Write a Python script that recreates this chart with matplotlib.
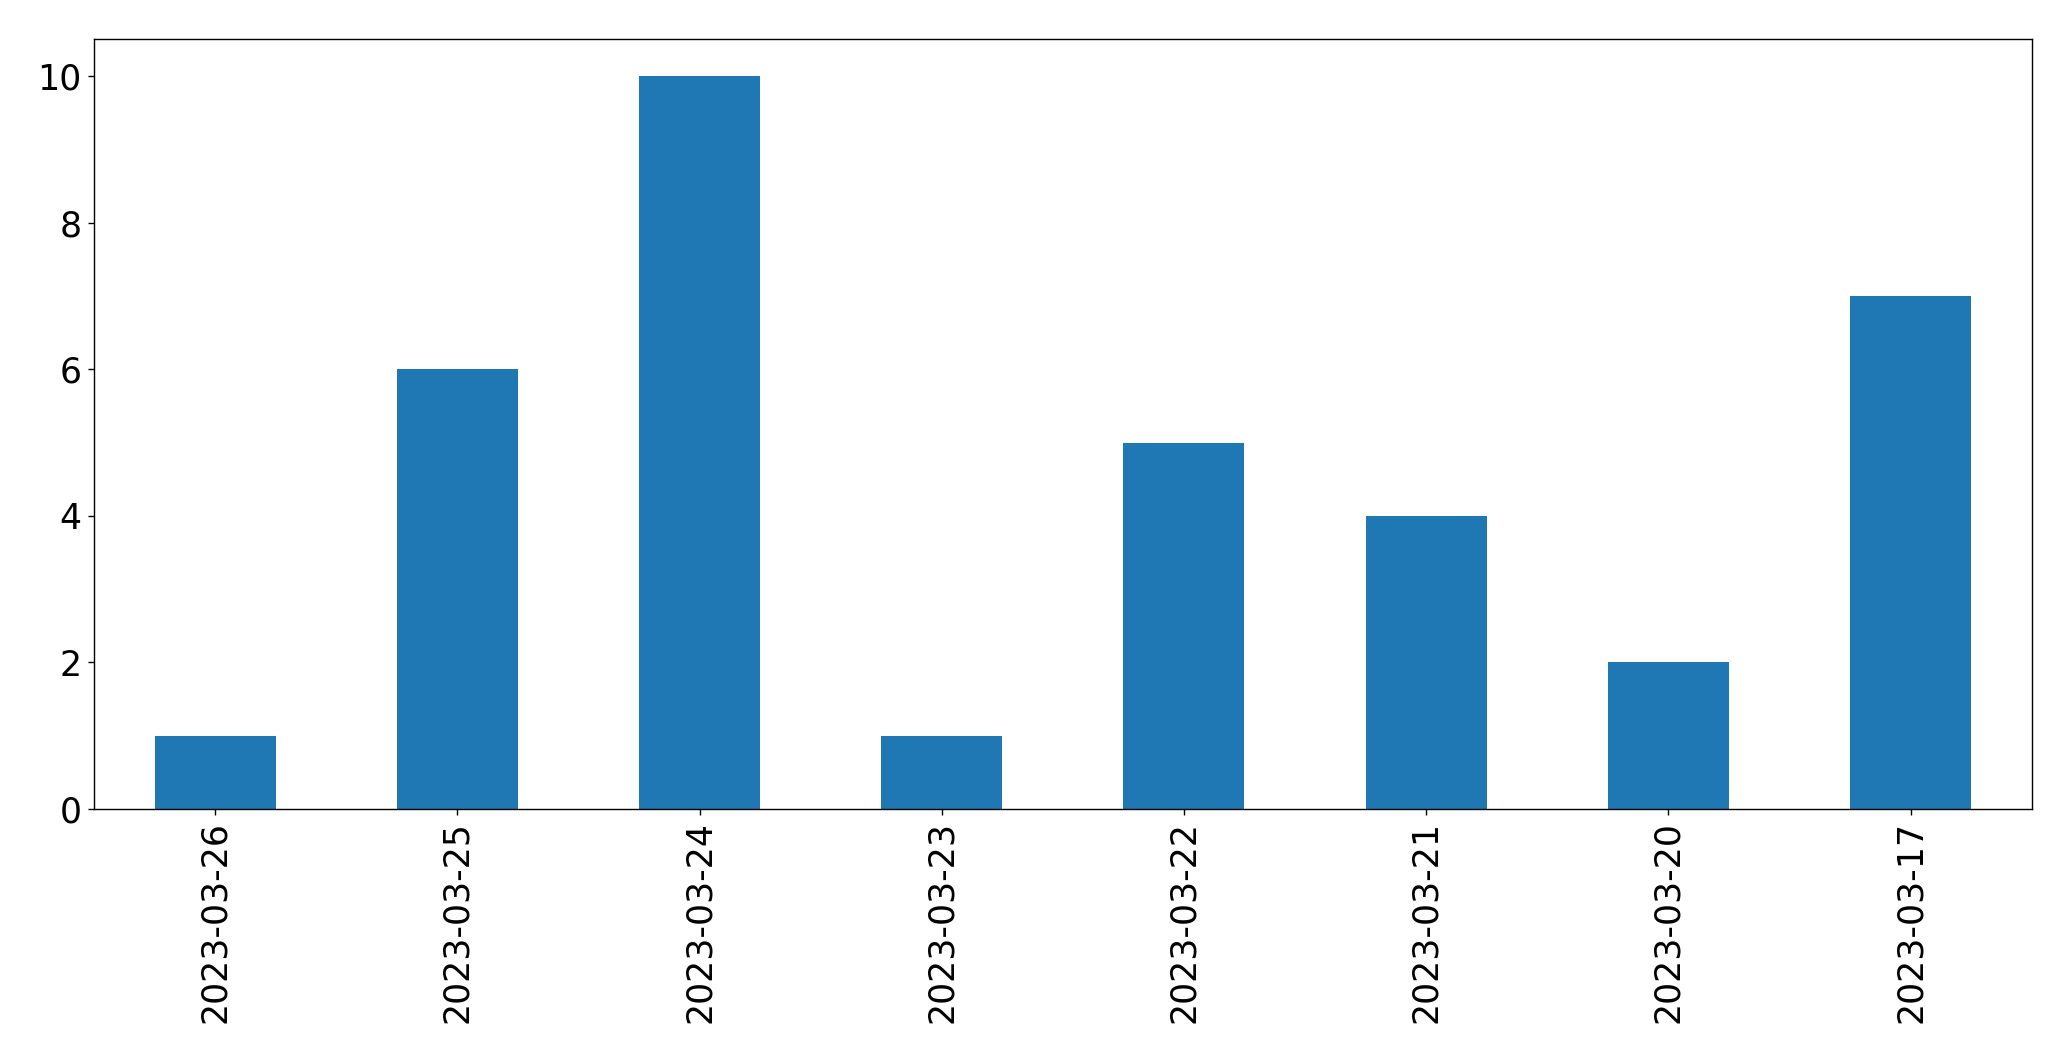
import pandas as pd
import matplotlib.pyplot as plt

dates = ["2023-03-26", "2023-03-25", "2023-03-24", "2023-03-23",
         "2023-03-22", "2023-03-21", "2023-03-20", "2023-03-17"]
counts = [1, 6, 10, 1, 5, 4, 2, 7]

s = pd.Series(counts, index=dates)

fig = plt.figure(figsize=(16.568, 8.488), dpi=125)
ax = fig.add_axes([0.0454, 0.2375, 0.9356, 0.7253])
s.plot(kind="bar", ax=ax, color="#1f77b4")
ax.tick_params(axis="both", labelsize=20)
ax.set_ylim(0, 10.5)

fig.savefig("out.png", dpi=125)
